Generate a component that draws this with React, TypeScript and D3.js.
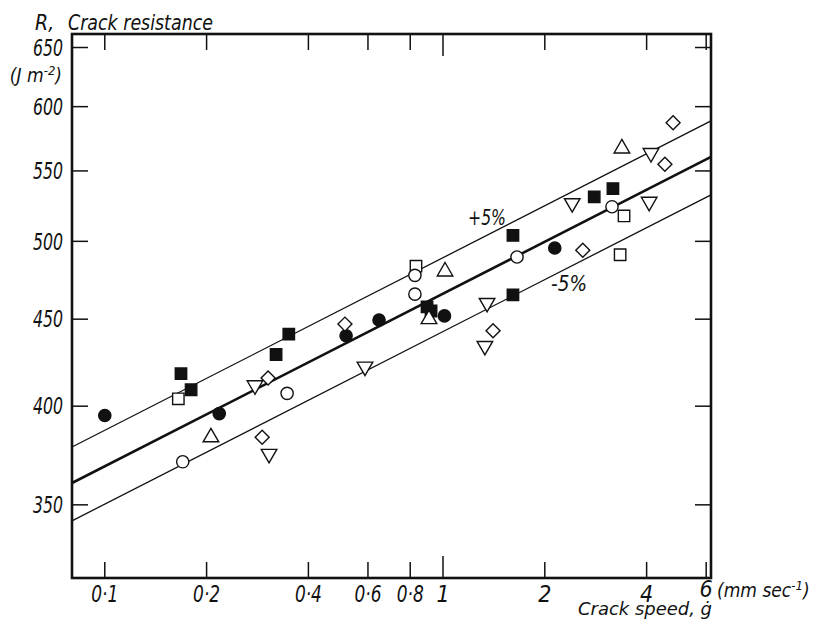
import React from 'react';
import * as d3 from 'd3';

const W = 813;
const H = 621;
const FONT = "'Liberation Sans Narrow', 'DejaVu Sans Condensed', sans-serif";

// axes
const speedTicks = [0.1, 0.2, 0.4, 0.6, 0.8, 1, 2, 4, 6];
const speedTickLabels = ['0·1', '0·2', '0·4', '0·6', '0·8', '1', '2', '4', '6'];
const resistanceTicks = [350, 400, 450, 500, 550, 600, 650];

// fitted line and +/-5% band (end points at the frame edges)
const fitSpeed = [0.08, 6.2];
const fitCentre = [360.5, 560.5];
const fitUpper = [378.5, 588.5];
const fitLower = [342.5, 532.5];

// measured points, one pair of arrays per marker
const solidCircleSpeed = [0.1, 0.218, 0.517, 0.647, 1.01, 2.14];
const solidCircleR = [395, 396, 440, 449.5, 452, 495.5];

const solidSquareSpeed = [0.168, 0.18, 0.321, 0.35, 0.897, 0.922, 1.61, 1.61, 2.8, 3.18];
const solidSquareR = [418, 409, 429, 441, 457.5, 455, 504, 465, 531, 537];

const openSquareSpeed = [0.165, 0.832, 3.34, 3.43];
const openSquareR = [404, 483.5, 491, 517.5];

const openCircleSpeed = [0.17, 0.346, 0.826, 0.826, 1.655, 3.16];
const openCircleR = [371, 407, 477.5, 465.5, 489.5, 524];

const upTriangleSpeed = [0.206, 1.014, 0.909, 3.38];
const upTriangleR = [383.5, 480, 450, 567];

const downTriangleSpeed = [0.278, 0.306, 0.588, 1.35, 1.33, 2.41, 4.07, 4.12];
const downTriangleR = [411.5, 375, 422, 460, 434, 526.5, 527.5, 563.5];

const diamondSpeed = [0.304, 0.292, 0.513, 1.406, 2.59, 4.53, 4.79];
const diamondR = [415.5, 383.5, 447, 443, 494, 555, 587];

type Series = { speed: number[]; r: number[]; shape: string; filled: boolean };

const series: Series[] = [
  { speed: solidCircleSpeed, r: solidCircleR, shape: 'circle', filled: true },
  { speed: solidSquareSpeed, r: solidSquareR, shape: 'square', filled: true },
  { speed: openSquareSpeed, r: openSquareR, shape: 'square', filled: false },
  { speed: openCircleSpeed, r: openCircleR, shape: 'circle', filled: false },
  { speed: upTriangleSpeed, r: upTriangleR, shape: 'up', filled: false },
  { speed: downTriangleSpeed, r: downTriangleR, shape: 'down', filled: false },
  { speed: diamondSpeed, r: diamondR, shape: 'diamond', filled: false },
];

const left = 72, right = 711, top = 34, bottom = 578;

export default function App() {
  const x = d3.scaleLog().domain([0.08, 6.2]).range([left, right]);
  const y = d3.scaleLog().domain([317, 662]).range([bottom, top]);

  const line = d3.line<[number, number]>()
    .x(d => x(d[0]))
    .y(d => y(d[1]));
  const fitPath = (vals: number[]) => line(fitSpeed.map((s, i) => [s, vals[i]] as [number, number])) || '';

  const symbolPath = (shape: string) => {
    if (shape === 'circle') return d3.symbol().type(d3.symbolCircle).size(118)() || '';
    if (shape === 'square') return d3.symbol().type(d3.symbolSquare).size(130)() || '';
    if (shape === 'diamond') return d3.symbol().type(d3.symbolSquare).size(98)() || '';
    return d3.symbol().type(d3.symbolTriangle).size(105)() || '';
  };
  const rotation = (shape: string) => (shape === 'down' ? 180 : shape === 'diamond' ? 45 : 0);

  const textStyle = { fontFamily: FONT, fontStyle: 'italic' as const, fill: '#111' };

  return (
    <svg width={W} height={H} style={{ position: 'absolute', left: 0, top: 0, background: '#fff' }}>
      {/* fitted lines */}
      <path d={fitPath(fitUpper)} stroke="#111" strokeWidth={1.3} fill="none" />
      <path d={fitPath(fitCentre)} stroke="#111" strokeWidth={2.6} fill="none" />
      <path d={fitPath(fitLower)} stroke="#111" strokeWidth={1.3} fill="none" />

      {/* points */}
      {series.map((s, si) =>
        s.speed.map((v, i) => (
          <path
            key={`${si}-${i}`}
            d={symbolPath(s.shape)}
            transform={`translate(${x(v)},${y(s.r[i])}) rotate(${rotation(s.shape)})`}
            fill={s.filled ? '#111' : '#fff'}
            stroke="#111"
            strokeWidth={1.4}
          />
        ))
      )}

      {/* frame */}
      <rect x={left} y={top} width={right - left} height={bottom - top} fill="none" stroke="#111" strokeWidth={2.6} />

      {/* x ticks, top and bottom */}
      {speedTicks.map((t, i) => {
        const len = t === 1 ? 22 : 16;
        const lab = speedTickLabels[i];
        return (
          <g key={`xt${i}`}>
            <line x1={x(t)} x2={x(t)} y1={bottom} y2={bottom - len} stroke="#111" strokeWidth={1.5} />
            <line x1={x(t)} x2={x(t)} y1={top} y2={top + len} stroke="#111" strokeWidth={1.5} />
            <text
              x={x(t)}
              y={t === 6 ? 597 : 602}
              textAnchor="middle"
              fontSize={23}
              style={textStyle}
              textLength={lab.length > 1 ? 27 : undefined}
              lengthAdjust="spacingAndGlyphs"
            >
              {lab}
            </text>
          </g>
        );
      })}

      {/* y ticks, left and right */}
      {resistanceTicks.map(t => (
        <g key={`yt${t}`}>
          <line x1={left} x2={left + 16} y1={y(t)} y2={y(t)} stroke="#111" strokeWidth={1.5} />
          <line x1={right} x2={right - 16} y1={y(t)} y2={y(t)} stroke="#111" strokeWidth={1.5} />
          <text
            x={63}
            y={y(t)}
            dy="0.36em"
            textAnchor="end"
            fontSize={23}
            style={textStyle}
            textLength={30}
            lengthAdjust="spacingAndGlyphs"
          >
            {t}
          </text>
        </g>
      ))}

      {/* band labels */}
      <text x={468} y={225} fontSize={22} style={textStyle} textLength={38} lengthAdjust="spacingAndGlyphs">+5%</text>
      <text x={551} y={291} fontSize={22} style={textStyle} textLength={36} lengthAdjust="spacingAndGlyphs">-5%</text>

      {/* axis titles */}
      <text x={35} y={30} fontSize={21} style={textStyle}>R,</text>
      <text x={68} y={30} fontSize={21} style={textStyle} textLength={145} lengthAdjust="spacingAndGlyphs">
        Crack resistance
      </text>
      <text x={62} y={82} textAnchor="end" fontSize={19} style={textStyle}>
        (J m<tspan dy={-7} fontSize={13}>-2</tspan><tspan dy={7}>)</tspan>
      </text>
      <text x={717} y={597} fontSize={19} style={textStyle}>
        (mm sec<tspan dy={-7} fontSize={13}>-1</tspan><tspan dy={7}>)</tspan>
      </text>
      <text x={578} y={615} fontSize={17} style={textStyle} textLength={134} lengthAdjust="spacingAndGlyphs">
        Crack speed, ġ
      </text>
    </svg>
  );
}
